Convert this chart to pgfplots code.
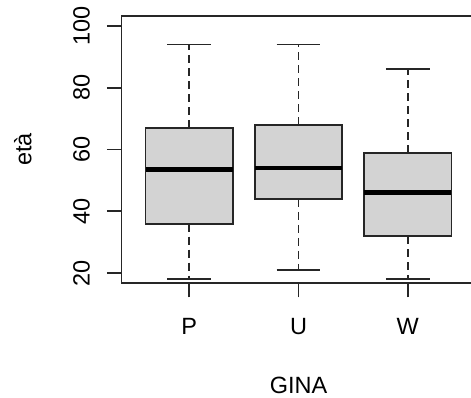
\documentclass[border=0pt]{standalone}
\usepackage{pgfplots}
\pgfplotsset{compat=1.18}
\usepgfplotslibrary{statistics}
\usepackage{fontspec}
\setmainfont{Liberation Sans}
\definecolor{boxgray}{HTML}{D3D3D3}
\definecolor{ink}{HTML}{262626}
\begin{document}
\fontsize{23.5}{28}\selectfont
\begin{tikzpicture}
\useasboundingbox (0pt,0pt) rectangle (471pt,398pt);
\begin{axis}[
  at={(121.5pt,115pt)}, anchor=south west,
  scale only axis, width=354pt, height=267pt,
  xmin=0.38, xmax=3.62, ymin=16.8, ymax=103.2,
  xtick={1,2,3}, xticklabels={P,U,W},
  ytick={20,40,60,80,100},
  xtick pos=bottom, ytick pos=left,
  tick align=outside, major tick length=14.5pt,
  tick style={line width=1.7pt, draw=ink},
  axis line style={line width=1.8pt, draw=ink},
  /pgf/number format/assume math mode=true,
  ticklabel style={font=\fontsize{23.5}{28}\selectfont, inner sep=0pt},
  yticklabel style={rotate=90, anchor=south, yshift=17pt},
  xticklabel style={anchor=north, yshift=-21pt},
  xlabel={GINA}, ylabel={età},
  label style={font=\fontsize{23.5}{28}\selectfont, inner sep=0pt},
  xlabel style={at={(axis description cs:0.5,0)}, anchor=north, yshift=-94pt},
  ylabel style={at={([xshift=-89.8pt]axis description cs:0,0.5)}, anchor=south},
  boxplot/draw direction=y,
  boxplot/every box/.style={fill=boxgray, draw=ink, line width=1.9pt},
  boxplot/every median/.style={draw=black, line width=4.7pt},
  boxplot/whisker extend=0.4,
  boxplot/draw/lower whisker/.code={%
    \draw[ink, line width=1.8pt, dash pattern=on 8pt off 5pt]
      (boxplot whisker cs:\pgfplotsboxplotvalue{lower quartile},0.5) --
      (boxplot whisker cs:\pgfplotsboxplotvalue{lower whisker},0.5);
    \draw[ink, line width=1.8pt]
      (boxplot whisker cs:\pgfplotsboxplotvalue{lower whisker},0) --
      (boxplot whisker cs:\pgfplotsboxplotvalue{lower whisker},1);
  },
  boxplot/draw/upper whisker/.code={%
    \draw[ink, line width=1.8pt, dash pattern=on 8pt off 5pt]
      (boxplot whisker cs:\pgfplotsboxplotvalue{upper quartile},0.5) --
      (boxplot whisker cs:\pgfplotsboxplotvalue{upper whisker},0.5);
    \draw[ink, line width=1.8pt]
      (boxplot whisker cs:\pgfplotsboxplotvalue{upper whisker},0) --
      (boxplot whisker cs:\pgfplotsboxplotvalue{upper whisker},1);
  },
]
\addplot+[black, boxplot prepared={lower whisker=18, lower quartile=36, median=53.5,
  upper quartile=67, upper whisker=94, draw position=1,
  box extend=0.8}] coordinates {};
\addplot+[black, boxplot prepared={lower whisker=21, lower quartile=44, median=54,
  upper quartile=68, upper whisker=94, draw position=2,
  box extend=0.8}] coordinates {};
\addplot+[black, boxplot prepared={lower whisker=18, lower quartile=32, median=46,
  upper quartile=59, upper whisker=86, draw position=3,
  box extend=0.8}] coordinates {};
\end{axis}
\end{tikzpicture}
\end{document}
